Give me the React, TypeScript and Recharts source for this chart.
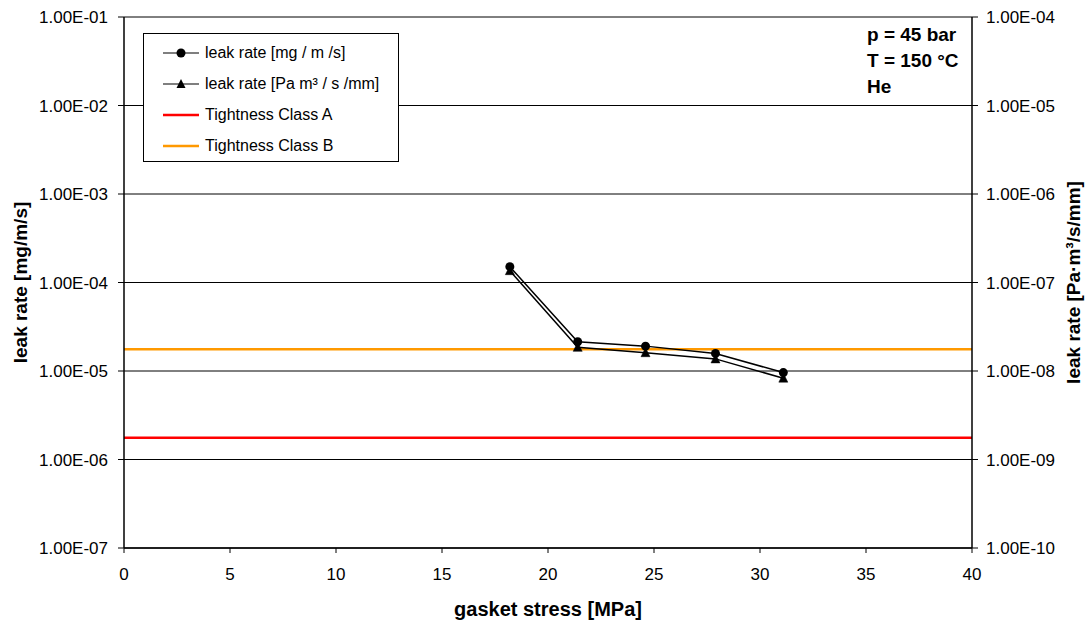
import React from 'react';
import { LineChart, Line, XAxis, YAxis, CartesianGrid, ReferenceLine } from 'recharts';

const gasketStress = [18.2, 21.4, 24.6, 27.9, 31.1];
const leakRateMg = [1.51e-4, 2.14e-5, 1.91e-5, 1.58e-5, 9.6e-6];
const leakRatePa = [1.36e-7, 1.85e-8, 1.61e-8, 1.37e-8, 8.3e-9];
const tightnessClassA = 1.76e-6;
const tightnessClassB = 1.76e-5;
const xTicks = [0, 5, 10, 15, 20, 25, 30, 35, 40];
const leftTicks = [1e-7, 1e-6, 1e-5, 1e-4, 1e-3, 1e-2, 1e-1];
const rightTicks = [1e-10, 1e-9, 1e-8, 1e-7, 1e-6, 1e-5, 1e-4];
const annotation = ['p = 45 bar', 'T = 150 °C', 'He'];

const data = gasketStress.map((x, i) => ({ x, mg: leakRateMg[i], pa: leakRatePa[i] }));

const FONT = 'Arial, "Liberation Sans", sans-serif';

const fmtExp = (v: number) => {
  const e = Math.round(Math.log10(v));
  const m = v / Math.pow(10, e);
  const sign = e < 0 ? '-' : '+';
  const abs = Math.abs(e);
  return `${m.toFixed(2)}E${sign}${abs < 10 ? '0' + abs : abs}`;
};

const Triangle = (props: any) => {
  const { cx, cy } = props;
  if (cx == null || cy == null) return null;
  return <path d={`M${cx},${cy - 5} L${cx + 4.5},${cy + 4} L${cx - 4.5},${cy + 4} Z`} fill="#000" stroke="#000" strokeWidth={0.5} />;
};

const Circle = (props: any) => {
  const { cx, cy } = props;
  if (cx == null || cy == null) return null;
  return <circle cx={cx} cy={cy} r={4.5} fill="#000" />;
};

const legendItems = [
  { label: 'leak rate [mg / m /s]', type: 'circle', color: '#000' },
  { label: 'leak rate [Pa m³ / s /mm]', type: 'triangle', color: '#000' },
  { label: 'Tightness Class A', type: 'line', color: '#ff0000' },
  { label: 'Tightness Class B', type: 'line', color: '#ff9900' },
];

const LegendBox = () => (
  <div style={{ position: 'absolute', left: 143, top: 33, border: '1px solid #000', background: '#fff', width: 256, height: 129, boxSizing: 'border-box', paddingTop: 3, fontFamily: FONT }}>
    {legendItems.map((it) => (
      <div key={it.label} style={{ display: 'flex', alignItems: 'center', height: 31, marginLeft: 19 }}>
        <svg width={38} height={14} style={{ flex: 'none' }}>
          <line x1={0} y1={7} x2={36} y2={7} stroke={it.color} strokeWidth={it.type === 'line' ? 2.5 : 1.2} />
          {it.type === 'circle' && <circle cx={18} cy={7} r={4.5} fill="#000" />}
          {it.type === 'triangle' && <path d="M18,2 L22.5,11 L13.5,11 Z" fill="#000" />}
        </svg>
        <span style={{ fontSize: 16, color: '#000', marginLeft: 4, whiteSpace: 'nowrap' }}>{it.label}</span>
      </div>
    ))}
  </div>
);

const leftLabel = (props: any) => {
  const vb = props.viewBox || {};
  const cx = vb.x + 20;
  const cy = vb.y + vb.height / 2;
  return (
    <text x={cx} y={cy} transform={`rotate(-90, ${cx}, ${cy})`} textAnchor="middle" dominantBaseline="central" fontFamily={FONT} fontSize={19} fontWeight="bold" fill="#000">
      leak rate [mg/m/s]
    </text>
  );
};

const rightLabel = (props: any) => {
  const vb = props.viewBox || {};
  const cx = vb.x + 101;
  const cy = vb.y + vb.height / 2;
  return (
    <text x={cx} y={cy} transform={`rotate(-90, ${cx}, ${cy})`} textAnchor="middle" dominantBaseline="central" fontFamily={FONT} fontSize={19} fontWeight="bold" fill="#000">
      leak rate [Pa·m³/s/mm]
    </text>
  );
};

const bottomLabel = (props: any) => {
  const vb = props.viewBox || {};
  const cx = vb.x + vb.width / 2;
  const cy = vb.y + 61;
  return (
    <text x={cx} y={cy} textAnchor="middle" dominantBaseline="central" fontFamily={FONT} fontSize={20} fontWeight="bold" fill="#000">
      gasket stress [MPa]
    </text>
  );
};

export default function App() {
  return (
    <div style={{ position: 'absolute', left: 0, top: 0, width: 1088, height: 621, background: '#fff' }}>
      <LineChart width={1088} height={621} data={data} margin={{ top: 17, right: 0, bottom: 0, left: 0 }}>
        <CartesianGrid yAxisId="left" vertical={false} stroke="#000" strokeWidth={1} horizontalValues={leftTicks} />
        <XAxis
          type="number"
          dataKey="x"
          domain={[0, 40]}
          ticks={xTicks}
          height={73}
          tickSize={5}
          tickMargin={15}
          stroke="#000"
          tick={{ fill: '#000', fontSize: 17, fontFamily: FONT }}
          tickLine={{ stroke: '#000' }}
          axisLine={{ stroke: '#000', strokeWidth: 1.5 }}
          label={bottomLabel}
        />
        <YAxis
          yAxisId="left"
          orientation="left"
          scale="log"
          domain={[1e-7, 1e-1]}
          ticks={leftTicks}
          allowDataOverflow
          width={124}
          tickSize={6}
          tickMargin={10}
          tickFormatter={fmtExp}
          tick={{ fill: '#000', fontSize: 17, fontFamily: FONT }}
          tickLine={{ stroke: '#000' }}
          axisLine={{ stroke: '#000', strokeWidth: 1.5 }}
          label={leftLabel}
        />
        <YAxis
          yAxisId="right"
          orientation="right"
          scale="log"
          domain={[1e-10, 1e-4]}
          ticks={rightTicks}
          allowDataOverflow
          width={116}
          tickSize={6}
          tickMargin={8}
          tickFormatter={fmtExp}
          tick={{ fill: '#000', fontSize: 17, fontFamily: FONT }}
          tickLine={{ stroke: '#000' }}
          axisLine={{ stroke: '#000', strokeWidth: 1.5 }}
          label={rightLabel}
        />
        <ReferenceLine yAxisId="left" y={tightnessClassA} stroke="#ff0000" strokeWidth={2.5} />
        <ReferenceLine yAxisId="left" y={tightnessClassB} stroke="#ff9900" strokeWidth={2.5} />
        <Line yAxisId="left" dataKey="mg" stroke="#000" strokeWidth={1.5} dot={<Circle />} isAnimationActive={false} />
        <Line yAxisId="right" dataKey="pa" stroke="#000" strokeWidth={1.5} dot={<Triangle />} isAnimationActive={false} />
        <text x={867} y={34} dominantBaseline="central" fontFamily={FONT} fontSize={19} fontWeight="bold" fill="#000">{annotation[0]}</text>
        <text x={867} y={60} dominantBaseline="central" fontFamily={FONT} fontSize={19} fontWeight="bold" fill="#000">{annotation[1]}</text>
        <text x={867} y={86} dominantBaseline="central" fontFamily={FONT} fontSize={19} fontWeight="bold" fill="#000">{annotation[2]}</text>
      </LineChart>
      <LegendBox />
    </div>
  );
}
